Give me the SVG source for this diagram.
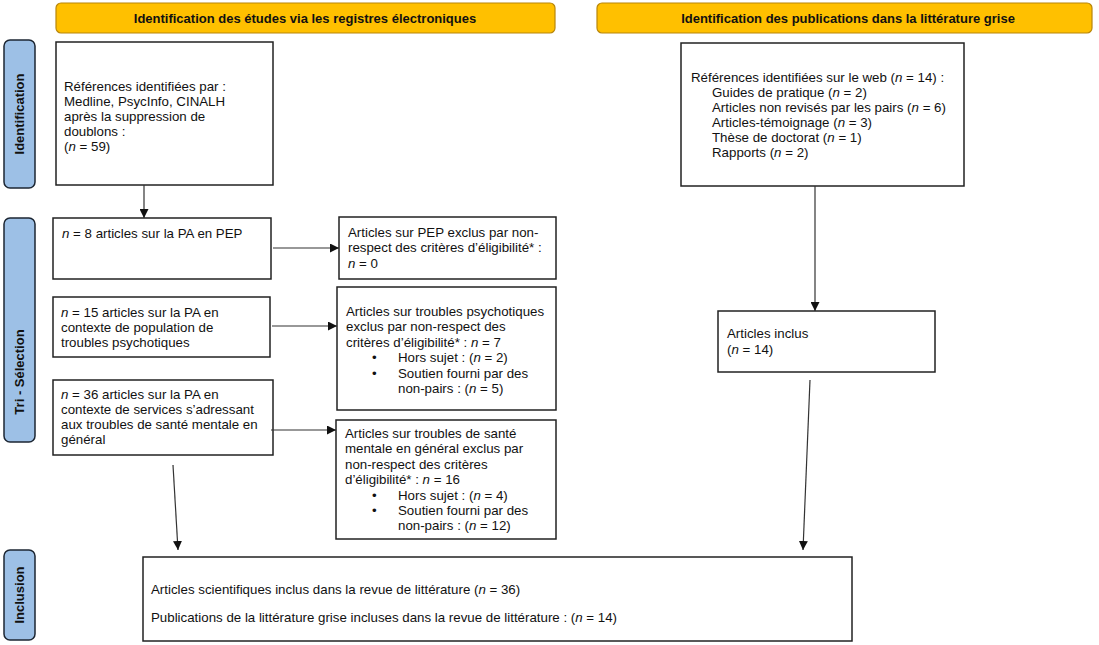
<svg xmlns="http://www.w3.org/2000/svg" width="1099" height="645" viewBox="0 0 1099 645">
<style>
text{font-family:"Liberation Sans",Arial,sans-serif;font-size:13.3px;fill:#111}
.hdr{font-weight:bold;font-size:13px;text-anchor:middle}
.side{font-weight:bold;font-size:13px;text-anchor:middle}
.i{font-style:italic}
.banner{fill:#FFC000;stroke:#B8860B;stroke-width:1.2}
.lab{fill:#9DC0E6;stroke:#1c2633;stroke-width:1.5}
.box{fill:#fff;stroke:#222;stroke-width:1.5}
.con{stroke:#333;stroke-width:1.2;fill:none;marker-end:url(#ah)}
</style>
<defs>
<marker id="ah" viewBox="0 0 10 10" refX="10" refY="5" markerWidth="9" markerHeight="9" markerUnits="userSpaceOnUse" orient="auto">
<path d="M0,0 L10,5 L0,10 z" fill="#111"/>
</marker>
</defs>
<rect width="1099" height="645" fill="#fff"/>
<g id="banner-left"><rect class="banner" x="56" y="3" width="499" height="30" rx="5"/><text class="hdr" x="305" y="23">Identification des études via les registres électroniques</text></g>
<g id="banner-right"><rect class="banner" x="597" y="3" width="495" height="30" rx="5"/><text class="hdr" x="848" y="23">Identification des publications dans la littérature grise</text></g>
<g id="side-identification"><rect class="lab" x="4" y="40" width="31" height="148" rx="6"/><text class="side" transform="translate(24,114) rotate(-90)">Identification</text></g>
<g id="side-tri"><rect class="lab" x="4" y="218" width="31" height="224" rx="6"/><text class="side" transform="translate(24,372) rotate(-90)">Tri - Sélection</text></g>
<g id="side-inclusion"><rect class="lab" x="4" y="550" width="31" height="90" rx="6"/><text class="side" transform="translate(24,595) rotate(-90)">Inclusion</text></g>
<g id="b1"><rect class="box" x="56" y="42" width="217" height="143"/>
<text x="64" y="91">Références identifiées par :</text>
<text x="64" y="106">Medline, PsycInfo, CINALH</text>
<text x="64" y="121">après la suppression de</text>
<text x="64" y="136">doublons :</text>
<text x="64" y="151"> (<tspan class="i">n</tspan> = 59)</text></g>
<g id="b2"><rect class="box" x="53" y="218" width="218" height="61"/>
<text x="62" y="238"><tspan class="i">n</tspan> = 8 articles sur la PA en PEP</text></g>
<g id="b3"><rect class="box" x="339" y="217" width="217" height="62"/>
<text x="348" y="237">Articles sur PEP exclus par non-</text>
<text x="348" y="252">respect des critères d’éligibilité* :</text>
<text x="348" y="268"><tspan class="i">n</tspan> = 0</text></g>
<g id="b4"><rect class="box" x="53" y="297" width="217" height="60"/>
<text x="61" y="317"><tspan class="i">n</tspan> = 15 articles sur la PA en</text>
<text x="61" y="332">contexte de population de</text>
<text x="61" y="347">troubles psychotiques</text></g>
<g id="b5"><rect class="box" x="337" y="287" width="219" height="123"/>
<text x="346" y="316">Articles sur troubles psychotiques</text>
<text x="346" y="331">exclus par non-respect des</text>
<text x="346" y="347">critères d’éligibilité* : <tspan class="i">n</tspan> = 7</text>
<text x="372" y="362">•</text><text x="398" y="362">Hors sujet : (<tspan class="i">n</tspan> = 2)</text>
<text x="372" y="378">•</text><text x="398" y="378">Soutien fourni par des</text>
<text x="398" y="393">non-pairs : (<tspan class="i">n</tspan> = 5)</text></g>
<g id="b6"><rect class="box" x="53" y="380" width="220" height="75"/>
<text x="61" y="399"><tspan class="i">n</tspan> = 36 articles sur la PA en</text>
<text x="61" y="414">contexte de services s’adressant</text>
<text x="61" y="429">aux troubles de santé mentale en</text>
<text x="61" y="444">général</text></g>
<g id="b7"><rect class="box" x="336" y="420" width="220" height="119"/>
<text x="345" y="438">Articles sur troubles de santé</text>
<text x="345" y="453">mentale en général exclus par</text>
<text x="345" y="469">non-respect des critères</text>
<text x="345" y="484">d’éligibilité* : <tspan class="i">n</tspan> = 16</text>
<text x="372" y="500">•</text><text x="398" y="500">Hors sujet : (<tspan class="i">n</tspan> = 4)</text>
<text x="372" y="515">•</text><text x="398" y="515">Soutien fourni par des</text>
<text x="398" y="530">non-pairs : (<tspan class="i">n</tspan> = 12)</text></g>
<g id="inclusion"><rect class="box" x="143" y="557" width="709" height="84"/>
<text x="151" y="594">Articles scientifiques inclus dans la revue de littérature (<tspan class="i">n</tspan> = 36)</text>
<text x="151" y="622">Publications de la littérature grise incluses dans la revue de littérature : (<tspan class="i">n</tspan> = 14)</text></g>
<g id="r1"><rect class="box" x="681" y="43" width="283" height="143"/>
<text x="691" y="82">Références identifiées sur le web (<tspan class="i">n</tspan> = 14) :</text>
<text x="712" y="97">Guides de pratique (<tspan class="i">n</tspan> = 2)</text>
<text x="712" y="112">Articles non revisés par les pairs (<tspan class="i">n</tspan> = 6)</text>
<text x="712" y="127">Articles-témoignage (<tspan class="i">n</tspan> = 3)</text>
<text x="712" y="142">Thèse de doctorat (<tspan class="i">n</tspan> = 1)</text>
<text x="712" y="157">Rapports (<tspan class="i">n</tspan> = 2)</text></g>
<g id="r2"><rect class="box" x="718" y="311" width="217" height="61"/>
<text x="727" y="338">Articles inclus</text>
<text x="727" y="354">(<tspan class="i">n</tspan> = 14)</text></g>
<g id="connectors">
<line class="con" x1="144" y1="185" x2="144" y2="218"/>
<line class="con" x1="273" y1="248" x2="339" y2="248"/>
<line class="con" x1="272" y1="326" x2="337" y2="326"/>
<line class="con" x1="271" y1="430" x2="336" y2="430"/>
<line class="con" x1="173" y1="465" x2="178" y2="550"/>
<line class="con" x1="815" y1="186" x2="815" y2="311"/>
<line class="con" x1="810" y1="380" x2="803" y2="550"/>
</g>
</svg>
